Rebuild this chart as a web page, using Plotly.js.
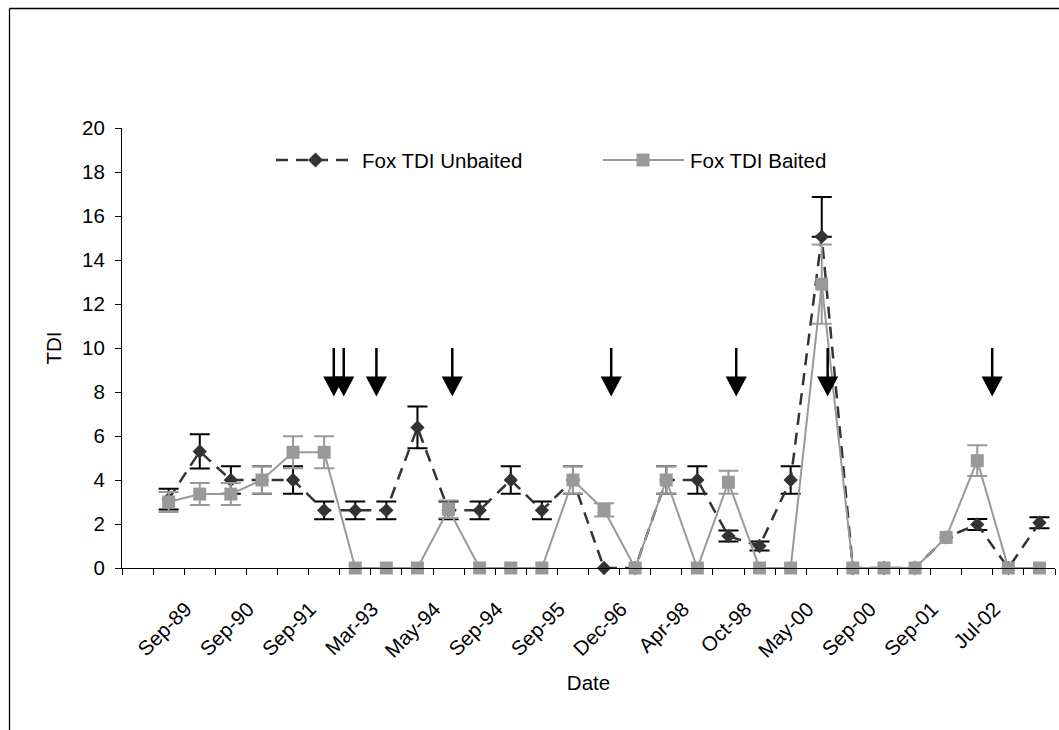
<!DOCTYPE html>
<html>
<head>
<meta charset="utf-8">
<script src="https://cdn.plot.ly/plotly-3.0.1.min.js"></script>
<style>html,body{margin:0;padding:0;background:#fff;}#chart{width:1059px;height:730px;}</style>
</head>
<body>
<div id="chart"></div>
<script>
// ---- data ----
const sampleIndex = [1,2,3,4,5,6,7,8,9,10,11,12,13,14,15,16,17,18,19,20,21,22,23,24,25,26,27,28,29];
const tickPositions = [2,4,6,8,10,12,14,16,18,20,22,24,26,28];
const tickLabels = ['Sep-89','Sep-90','Sep-91','Mar-93','May-94','Sep-94','Sep-95','Dec-96','Apr-98','Oct-98','May-00','Sep-00','Sep-01','Jul-02'];
const unbaited         = [3.13,5.3,4.0,4.0,4.0,2.62,2.62,2.62,6.39,2.62,2.62,4.0,2.62,4.0,0,0,4.0,4.0,1.45,1.0,4.0,15.06,0,0,0,1.39,1.98,0,2.06];
const unbaitedErr      = [0.47,0.78,0.62,0.62,0.62,0.4,0.4,0.4,0.95,0.4,0.4,0.62,0.4,0.62,null,null,0.62,0.62,0.25,0.2,0.62,1.8,null,null,null,null,0.25,null,0.25];
const unbaitedErrMinus = [0.47,0.78,0.62,0.62,0.62,0.4,0.4,0.4,0.95,0.4,0.4,0.62,0.4,0.62,null,null,0.62,0.62,0.25,0.2,0.62,0,null,null,null,null,0.25,null,0.25];
const baited      = [3.0,3.36,3.36,4.0,5.26,5.26,0,0,0,2.67,0,0,0,4.0,2.64,0,4.0,0,3.9,0,0,12.9,0,0,0,1.39,4.88,0,0];
const baitedErr   = [0.45,0.5,0.5,0.62,0.73,0.73,null,null,null,0.4,null,null,null,0.62,0.3,null,0.62,null,0.52,null,null,1.8,null,null,null,null,0.7,null,null];
const arrowPositions = [6.31,6.63,7.68,10.12,15.23,19.25,22.19,27.48];
const seriesNames = ['Fox TDI Unbaited','Fox TDI Baited'];

// ---- styling ----
const FONT = 'Liberation Sans, Arial, Helvetica, sans-serif';
const FS = 20.5;
const DARK = '#333333', GREY = '#999999';
const L = 122, R = 1055, T = 128, B = 568;
const px = v => (v - L) / (R - L);
const py = v => (B - v) / (B - T);
const errOf = a => a.map(v => v === null ? NaN : v);

const traces = [
  {
    x: sampleIndex, y: unbaited, name: seriesNames[0], type: 'scatter', mode: 'lines+markers',
    line: {color: DARK, width: 2.5, dash: '12px,8px'},
    marker: {symbol: 'diamond', size: 11, color: DARK},
    error_y: {type: 'data', symmetric: false, array: errOf(unbaitedErr), arrayminus: errOf(unbaitedErrMinus), visible: true, color: '#000', thickness: 2, width: 10},
    showlegend: false, cliponaxis: false
  },
  {
    x: sampleIndex, y: baited, name: seriesNames[1], type: 'scatter', mode: 'lines+markers',
    line: {color: GREY, width: 2},
    marker: {symbol: 'square', size: 13, color: GREY},
    error_y: {type: 'data', array: errOf(baitedErr), visible: true, color: GREY, thickness: 2, width: 10},
    showlegend: false, cliponaxis: false
  }
];

const shapes = [];
// frame
shapes.push({type:'line', xref:'paper', yref:'paper', x0:px(9.5), x1:px(1062), y0:py(8.5), y1:py(8.5), line:{color:'#000', width:1.3}});
shapes.push({type:'line', xref:'paper', yref:'paper', x0:px(9.5), x1:px(9.5), y0:py(8.5), y1:py(735), line:{color:'#000', width:1.3}});
// arrows
arrowPositions.forEach(a => {
  shapes.push({type:'line', xref:'x', yref:'y', x0:a, x1:a, y0:10.0, y1:8.6, line:{color:'#000', width:2.5}});
  shapes.push({type:'path', xref:'x', yref:'y', path:`M${a-0.34},8.7 L${a+0.34},8.7 L${a},7.8 Z`, fillcolor:'#000', line:{color:'#000', width:0}});
});
// legend (manual, to match long symbol lines)
const ly = py(160);
shapes.push({type:'line', xref:'paper', yref:'paper', x0:px(276), x1:px(356), y0:ly, y1:ly, line:{color:DARK, width:2.5, dash:'12px,8px'}});
shapes.push({type:'path', xref:'paper', yref:'paper', path:`M${px(308)},${ly} L${px(315.5)},${py(152.5)} L${px(323)},${ly} L${px(315.5)},${py(167.5)} Z`, fillcolor:DARK, line:{width:0}});
shapes.push({type:'line', xref:'paper', yref:'paper', x0:px(603), x1:px(684), y0:ly, y1:ly, line:{color:GREY, width:2}});
shapes.push({type:'rect', xref:'paper', yref:'paper', x0:px(636.5), x1:px(649.5), y0:py(153.5), y1:py(166.5), fillcolor:GREY, line:{width:0}});

const annotations = [
  {xref:'paper', yref:'paper', x:px(360), y:ly, xanchor:'left', yanchor:'middle', text:seriesNames[0], showarrow:false, font:{family:FONT, size:FS, color:'#000'}},
  {xref:'paper', yref:'paper', x:px(688), y:ly, xanchor:'left', yanchor:'middle', text:seriesNames[1], showarrow:false, font:{family:FONT, size:FS, color:'#000'}}
];

const layout = {
  width: 1059, height: 730,
  margin: {l: L, r: 1059 - R, t: T, b: 730 - B, pad: 0},
  paper_bgcolor: '#fff', plot_bgcolor: '#fff',
  font: {family: FONT, size: FS, color: '#000'},
  showlegend: false,
  xaxis: {
    range: [-0.5, 29.5], tickmode: 'array', tickvals: tickPositions, ticktext: tickLabels,
    tickangle: -45, ticks: '', showgrid: false, zeroline: false,
    ticklabelstandoff: 20, ticklabelshift: -14,
    showline: true, linecolor: '#000', linewidth: 1,
    tickfont: {family: FONT, size: FS, color: '#000'},
    minor: {tickmode: 'linear', tick0: 0.5, dtick: 1, ticks: 'outside', ticklen: 6, tickwidth: 1, tickcolor: '#000', showgrid: false},
    title: {text: 'Date', standoff: 14, font: {family: FONT, size: FS, color: '#000'}},
    fixedrange: true
  },
  yaxis: {
    range: [0, 20], dtick: 2, tick0: 0, ticks: 'outside', ticklen: 6, tickwidth: 1, tickcolor: '#000',
    ticklabelstandoff: 6,
    showgrid: false, zeroline: false, showline: true, linecolor: '#000', linewidth: 1,
    tickfont: {family: FONT, size: FS, color: '#000'},
    title: {text: 'TDI', standoff: 14, font: {family: FONT, size: FS, color: '#000'}},
    fixedrange: true
  },
  shapes: shapes,
  annotations: annotations
};

Plotly.newPlot('chart', traces, layout, {displayModeBar: false, staticPlot: true});
</script>
</body>
</html>
